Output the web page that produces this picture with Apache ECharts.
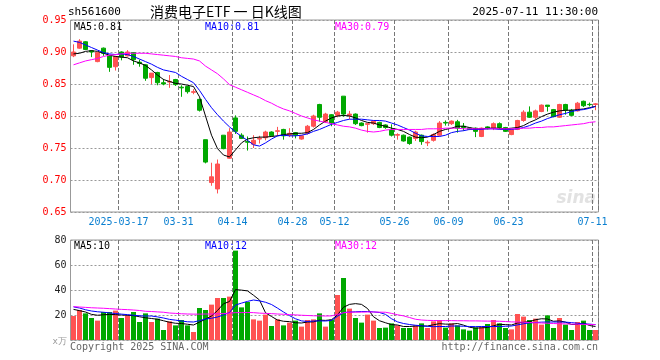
<!DOCTYPE html>
<html><head><meta charset="utf-8">
<script src="https://cdn.jsdelivr.net/npm/echarts@6/dist/echarts.min.js"></script>
<style>html,body{margin:0;padding:0;background:#fff}#c{width:660px;height:360px}</style>
</head><body><div id="c"></div>
<script>
const dates = [
'2025-03-05','2025-03-06','2025-03-07','2025-03-10','2025-03-11','2025-03-12','2025-03-13','2025-03-14','2025-03-17','2025-03-18',
'2025-03-19','2025-03-20','2025-03-21','2025-03-24','2025-03-25','2025-03-26','2025-03-27','2025-03-28','2025-03-31','2025-04-01',
'2025-04-02','2025-04-03','2025-04-07','2025-04-08','2025-04-09','2025-04-10','2025-04-11','2025-04-14','2025-04-15','2025-04-16',
'2025-04-17','2025-04-18','2025-04-21','2025-04-22','2025-04-23','2025-04-24','2025-04-25','2025-04-28','2025-04-29','2025-04-30',
'2025-05-06','2025-05-07','2025-05-08','2025-05-09','2025-05-12','2025-05-13','2025-05-14','2025-05-15','2025-05-16','2025-05-19',
'2025-05-20','2025-05-21','2025-05-22','2025-05-23','2025-05-26','2025-05-27','2025-05-28','2025-05-29','2025-05-30','2025-06-03',
'2025-06-04','2025-06-05','2025-06-06','2025-06-09','2025-06-10','2025-06-11','2025-06-12','2025-06-13','2025-06-16','2025-06-17',
'2025-06-18','2025-06-19','2025-06-20','2025-06-23','2025-06-24','2025-06-25','2025-06-26','2025-06-27','2025-06-30','2025-07-01',
'2025-07-02','2025-07-03','2025-07-04','2025-07-07','2025-07-08','2025-07-09','2025-07-10','2025-07-11'];
const opens = [
0.894,0.906,0.916,0.902,0.885,0.906,0.894,0.877,0.900,0.894,
0.899,0.884,0.880,0.860,0.868,0.852,0.853,0.857,0.845,0.846,
0.837,0.826,0.763,0.696,0.686,0.770,0.734,0.797,0.770,0.760,
0.756,0.764,0.766,0.775,0.776,0.779,0.770,0.774,0.764,0.773,
0.784,0.818,0.791,0.802,0.801,0.831,0.801,0.803,0.789,0.787,
0.788,0.790,0.786,0.778,0.770,0.770,0.767,0.765,0.770,0.758,
0.762,0.770,0.790,0.788,0.791,0.784,0.781,0.781,0.768,0.783,
0.781,0.788,0.782,0.771,0.779,0.793,0.806,0.798,0.807,0.817,
0.810,0.798,0.818,0.809,0.808,0.823,0.8182,0.818];
const closes = [
0.900,0.917,0.904,0.900,0.899,0.898,0.876,0.893,0.892,0.900,
0.888,0.882,0.859,0.867,0.852,0.850,0.854,0.849,0.844,0.838,
0.838,0.809,0.728,0.705,0.725,0.749,0.775,0.776,0.765,0.759,
0.762,0.765,0.775,0.769,0.777,0.769,0.773,0.770,0.769,0.784,
0.800,0.798,0.803,0.789,0.806,0.803,0.803,0.788,0.785,0.788,
0.792,0.782,0.782,0.770,0.771,0.761,0.757,0.775,0.760,0.759,
0.771,0.789,0.789,0.792,0.781,0.782,0.779,0.776,0.781,0.780,
0.788,0.782,0.776,0.779,0.793,0.806,0.798,0.808,0.817,0.815,
0.799,0.818,0.809,0.801,0.820,0.816,0.8177,0.819];
const lows = [
0.892,0.905,0.903,0.892,0.884,0.894,0.869,0.871,0.887,0.893,
0.880,0.877,0.855,0.850,0.848,0.848,0.844,0.847,0.830,0.835,
0.834,0.807,0.726,0.691,0.679,0.748,0.733,0.772,0.764,0.746,
0.750,0.757,0.762,0.768,0.769,0.763,0.767,0.765,0.763,0.771,
0.782,0.791,0.789,0.784,0.798,0.799,0.795,0.786,0.784,0.774,
0.786,0.781,0.780,0.768,0.763,0.760,0.755,0.761,0.755,0.753,
0.760,0.768,0.785,0.786,0.774,0.777,0.778,0.767,0.767,0.779,
0.778,0.779,0.775,0.770,0.778,0.791,0.797,0.795,0.806,0.807,
0.798,0.797,0.802,0.800,0.807,0.814,0.815,0.809];
const highs = [
0.912,0.920,0.917,0.903,0.900,0.907,0.895,0.894,0.901,0.903,
0.900,0.888,0.881,0.867,0.869,0.858,0.864,0.858,0.848,0.847,
0.842,0.827,0.763,0.727,0.732,0.770,0.781,0.801,0.773,0.768,
0.770,0.769,0.777,0.776,0.783,0.780,0.781,0.775,0.770,0.786,
0.802,0.819,0.805,0.803,0.808,0.831,0.808,0.804,0.790,0.789,
0.793,0.791,0.787,0.787,0.773,0.771,0.768,0.777,0.771,0.762,
0.773,0.792,0.793,0.793,0.794,0.789,0.782,0.782,0.782,0.784,
0.790,0.790,0.783,0.780,0.794,0.809,0.815,0.810,0.818,0.817,
0.811,0.819,0.819,0.811,0.822,0.824,0.821,0.820];
const ma5 = [
0.897,0.898,0.901,0.902,0.901,0.898,0.895,0.893,0.892,0.891,
0.886,0.883,0.879,0.872,0.864,0.857,0.854,0.851,0.850,0.848,
0.846,0.830,0.800,0.770,0.749,0.739,0.736,0.747,0.758,0.764,
0.766,0.767,0.767,0.768,0.769,0.771,0.772,0.773,0.773,0.774,
0.779,0.786,0.792,0.797,0.800,0.801,0.800,0.797,0.793,0.790,
0.789,0.786,0.784,0.781,0.779,0.776,0.771,0.767,0.766,0.767,
0.771,0.776,0.779,0.781,0.784,0.784,0.782,0.780,0.780,0.781,
0.781,0.781,0.780,0.781,0.782,0.785,0.790,0.794,0.799,0.803,
0.806,0.808,0.809,0.809,0.810,0.811,0.813,0.815];
const ma10 = [
0.917,0.915,0.911,0.907,0.903,0.899,0.897,0.896,0.897,0.896,
0.893,0.889,0.885,0.881,0.876,0.872,0.870,0.868,0.862,0.857,
0.852,0.840,0.826,0.813,0.802,0.792,0.783,0.775,0.768,0.762,
0.755,0.753,0.758,0.764,0.769,0.770,0.769,0.769,0.770,0.772,
0.776,0.779,0.783,0.787,0.790,0.793,0.795,0.795,0.795,0.794,
0.793,0.793,0.792,0.789,0.786,0.782,0.778,0.773,0.769,0.768,
0.768,0.768,0.770,0.774,0.776,0.777,0.779,0.779,0.779,0.780,
0.780,0.779,0.779,0.779,0.780,0.782,0.785,0.789,0.792,0.796,
0.799,0.802,0.804,0.807,0.809,0.810,0.812,0.815];
const ma30 = [
0.880,0.883,0.886,0.888,0.890,0.893,0.895,0.896,0.897,0.898,
0.898,0.898,0.898,0.897,0.896,0.895,0.894,0.893,0.891,0.890,
0.889,0.886,0.878,0.872,0.866,0.858,0.849,0.845,0.841,0.837,
0.833,0.829,0.824,0.820,0.815,0.811,0.808,0.804,0.800,0.797,
0.794,0.792,0.790,0.788,0.786,0.784,0.783,0.781,0.778,0.776,
0.775,0.776,0.778,0.779,0.779,0.779,0.779,0.779,0.779,0.780,
0.780,0.780,0.781,0.781,0.781,0.780,0.780,0.780,0.780,0.780,
0.780,0.780,0.780,0.780,0.780,0.781,0.781,0.782,0.782,0.783,
0.783,0.784,0.785,0.786,0.787,0.788,0.790,0.791];
const volumes = [
19.2,24,21.3,17.6,15.5,22.4,22.4,23.5,17.6,19.7,
22.4,14.4,21.3,14.4,17.1,8,14.9,11.7,16,11.7,
6.4,25.6,24,28.3,33.6,33.6,34.7,71.5,26.1,30.4,
16.5,15.5,20.3,11.2,16.5,11.7,13.9,15.5,10.7,16,
16.5,21.3,10.7,16.3,36,49.6,25.1,17.6,13.9,20.3,
15.5,9.6,9.9,13.3,11.7,9.6,9.6,11.7,13.3,9.6,
14.9,16,9.9,13.3,11.7,8.5,7.5,10.1,10.7,12.8,
16,13.3,9.6,8.5,20.8,18.7,16,17.1,12.3,19.7,
9.6,17.6,12.3,8,14.4,15.5,8,8];
const volMa5 = [
24.5,23.5,22.4,20.5,19.8,20.2,20.5,20.3,20.0,19.8,
19.5,18.6,17.8,17.2,16.6,15.4,14.2,13.4,13.2,12.6,
12.0,14.3,16.7,19.2,23.6,29.0,30.8,40.3,39.9,39.3,
35.8,32.0,21.8,18.8,16.0,15.0,14.7,13.8,13.6,14.4,
14.5,15.9,15.7,16.2,20.1,26.2,28.5,29.1,28.5,25.2,
18.6,15.4,13.8,12.3,12.0,10.8,10.8,11.2,11.2,11.2,
12.2,13.1,12.7,12.7,13.2,11.9,10.2,9.5,9.7,10.0,
11.4,12.6,12.3,12.0,13.6,14.2,14.7,16.2,17.0,16.8,
15.0,15.3,14.3,12.4,12.4,13.6,11.6,10.8];
const volMa10 = [
26.5,25.6,24.2,23.2,22.6,22.2,21.7,21.2,20.7,20.3,
19.8,19.4,19.2,19.2,18.5,17.6,16.5,15.9,15.2,14.6,
14.4,15.5,16.8,17.4,18.4,20.0,22.0,28.0,29.5,30.9,
32.0,31.3,30.2,28.4,25.5,22.4,19.5,17.0,15.3,14.8,
15.2,15.3,15.2,15.7,19.0,22.0,22.3,22.6,22.8,22.8,
22.5,22.0,20.5,17.0,14.5,13.2,12.4,11.8,11.4,10.9,
10.7,10.8,10.8,11.2,11.2,11.0,10.8,10.7,10.8,10.8,
10.8,10.8,11.0,11.2,12.1,13.0,13.7,14.0,14.3,14.4,
14.4,14.4,14.3,13.9,13.4,12.9,12.7,12.3];
const volMa30 = [
26.7,26.4,26.1,25.8,25.6,25.4,25.1,24.8,24.5,24.3,
24.0,23.6,23.0,22.8,22.5,22.2,21.6,21.3,21.0,20.8,
20.7,20.7,20.8,20.8,20.9,21.2,21.5,21.9,21.9,22.0,
21.9,21.5,21.3,21.1,20.8,20.6,20.3,20.1,19.8,19.6,
19.4,19.3,19.2,19.3,20.5,21.8,22.2,22.3,22.3,22.4,
22.4,22.3,22.2,21.3,20.2,19.3,18.0,16.6,16.0,15.7,
15.6,15.5,15.5,15.5,15.4,15.4,15.3,15.3,15.2,15.1,
15.1,15.0,14.8,14.5,14.4,14.2,14.0,13.8,13.6,13.4,
13.2,13.0,12.9,12.7,12.6,12.5,12.4,12.3];
const xTickDates = ['2025-03-17','2025-03-31','2025-04-14','2025-04-28','2025-05-12','2025-05-26','2025-06-09','2025-06-23','2025-07-11'];
const priceMin = 0.65, priceMax = 0.95, priceStep = 0.05;
const volMin = 0, volMax = 80, volStep = 20;

const UP = '#ff5252', DOWN = '#00a800';
const mono = '"DejaVu Sans Mono", "Liberation Mono", monospace';
const isTick = (i) => xTickDates.indexOf(dates[i]) >= 0;

const chart = echarts.init(document.getElementById('c'), null, { renderer: 'canvas' });
const kData = dates.map((d, i) => [opens[i], closes[i], lows[i], highs[i]]);
const volData = volumes.map((v, i) => ({ value: v, itemStyle: { color: closes[i] >= opens[i] ? UP : DOWN } }));

function txt(x, y, text, color, opts) {
  return Object.assign({ type: 'text', x: x, y: y, silent: true,
    style: Object.assign({ text: text, fill: color, font: '10px ' + mono, textVerticalAlign: 'middle' }, opts || {}) });
}
const vSplit = () => ({ show: true, interval: (i) => isTick(i), lineStyle: { color: '#777', width: 1, type: 'dashed' } });

chart.setOption({
  animation: false,
  backgroundColor: '#fff',
  grid: [
    { left: 70.5, right: 61.5, top: 20, height: 192, show: true, borderColor: '#999', borderWidth: 1, backgroundColor: 'rgba(0,0,0,0)' },
    { left: 70.5, right: 61.5, top: 240, height: 100, show: true, borderColor: '#999', borderWidth: 1, backgroundColor: 'rgba(0,0,0,0)' }
  ],
  xAxis: [
    { type: 'category', gridIndex: 0, data: dates, boundaryGap: true,
      axisLine: { show: false }, axisTick: { show: false },
      splitLine: vSplit(),
      axisLabel: { show: true, interval: (i) => isTick(i), color: '#0a7fd0', fontFamily: mono, fontSize: 10, margin: 5,
        padding: [0, 6, 0, 0],
        formatter: (v) => v === xTickDates[0] ? v : v.slice(5) } },
    { type: 'category', gridIndex: 1, data: dates, boundaryGap: true,
      axisLine: { show: false }, axisTick: { show: false }, axisLabel: { show: false },
      splitLine: vSplit() }
  ],
  yAxis: [
    { type: 'value', gridIndex: 0, min: priceMin, max: priceMax, interval: priceStep,
      axisLine: { show: false }, axisTick: { show: false },
      axisLabel: { color: '#ff0000', fontFamily: mono, fontSize: 10, margin: 4, formatter: (v) => v.toFixed(2) },
      splitLine: { show: true, lineStyle: { color: '#999', width: 1, type: [2, 2] } } },
    { type: 'value', gridIndex: 1, min: volMin, max: volMax, interval: volStep,
      axisLine: { show: false }, axisTick: { show: false },
      axisLabel: { color: '#222', fontFamily: mono, fontSize: 10, margin: 4, formatter: (v) => v === 0 ? '' : String(v) },
      splitLine: { show: true, lineStyle: { color: '#999', width: 1, type: [2, 2] } } }
  ],
  series: [
    { type: 'candlestick', xAxisIndex: 0, yAxisIndex: 0, data: kData, barWidth: 4, z: 3,
      itemStyle: { color: UP, color0: DOWN, borderColor: UP, borderColor0: DOWN, borderWidth: 1 } },
    { type: 'line', xAxisIndex: 0, yAxisIndex: 0, data: ma5, symbol: 'none', z: 4, lineStyle: { color: '#000', width: 1 } },
    { type: 'line', xAxisIndex: 0, yAxisIndex: 0, data: ma10, symbol: 'none', z: 4, lineStyle: { color: '#0000ff', width: 1 } },
    { type: 'line', xAxisIndex: 0, yAxisIndex: 0, data: ma30, symbol: 'none', z: 4, lineStyle: { color: '#ff00ff', width: 1 } },
    { type: 'bar', xAxisIndex: 1, yAxisIndex: 1, data: volData, barWidth: 5, z: 3 },
    { type: 'line', xAxisIndex: 1, yAxisIndex: 1, data: volMa5, symbol: 'none', z: 4, lineStyle: { color: '#000', width: 1 } },
    { type: 'line', xAxisIndex: 1, yAxisIndex: 1, data: volMa10, symbol: 'none', z: 4, lineStyle: { color: '#0000ff', width: 1 } },
    { type: 'line', xAxisIndex: 1, yAxisIndex: 1, data: volMa30, symbol: 'none', z: 4, lineStyle: { color: '#ff00ff', width: 1 } }
  ],
  graphic: [
    txt(68, 12, 'sh561600', '#000', { font: '11px ' + mono }),
    txt(150, 12, '消费电子ETF 一 日K线图', '#000', { font: '14px "Noto Sans CJK SC", sans-serif' }),
    txt(598, 12, '2025-07-11 11:30:00', '#000', { font: '11px ' + mono, textAlign: 'right' }),
    txt(74, 27, 'MA5:' + ma5[ma5.length - 1].toFixed(2), '#000'),
    txt(205, 27, 'MA10:' + ma10[ma10.length - 1].toFixed(2), '#0000ff'),
    txt(335, 27, 'MA30:' + ma30[ma30.length - 1].toFixed(2), '#ff00ff'),
    txt(74, 246, 'MA5:10', '#000'),
    txt(205, 246, 'MA10:12', '#0000ff'),
    txt(335, 246, 'MA30:12', '#ff00ff'),
    txt(67, 342, 'x万', '#999', { font: '9px ' + mono, textAlign: 'right' }),
    txt(70, 347, 'Copyright 2025 SINA.COM', '#666'),
    txt(598, 347, 'http://finance.sina.com.cn', '#666', { textAlign: 'right' }),
    txt(596, 199, 'sina', '#e2e2e2', { font: 'italic bold 17px "DejaVu Sans", sans-serif', textAlign: 'right' })
  ]
});
</script></body></html>
